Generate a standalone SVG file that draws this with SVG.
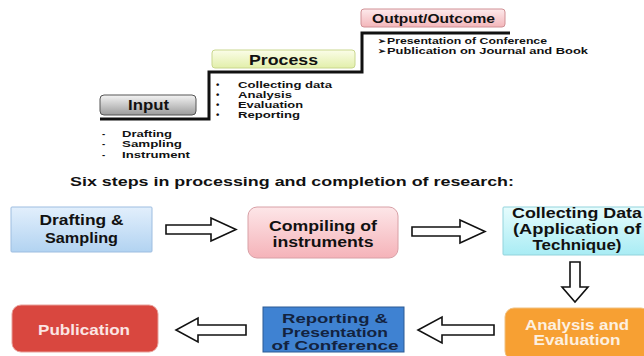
<svg xmlns="http://www.w3.org/2000/svg" width="644" height="356" viewBox="0 0 644 356">
<style>
text{font-family:"Liberation Sans",Arial,sans-serif;font-weight:bold;fill:#111}
.lbl{font-size:14px;text-anchor:middle}
.lst{font-size:9.6px}
.arr{fill:#fff;stroke:#111;stroke-width:1.6;stroke-linejoin:miter}
.step{fill:none;stroke:#111;stroke-width:3}
</style>
<defs>
<linearGradient id="gGray" x1="0" y1="0" x2="0" y2="1"><stop offset="0" stop-color="#f4f4f4"/><stop offset="1" stop-color="#9c9c9c"/></linearGradient>
<linearGradient id="gYel" x1="0" y1="0" x2="0" y2="1"><stop offset="0" stop-color="#fbfde8"/><stop offset="1" stop-color="#e2efaa"/></linearGradient>
<linearGradient id="gPinkS" x1="0" y1="0" x2="0" y2="1"><stop offset="0" stop-color="#fdeaec"/><stop offset="1" stop-color="#f3b6ba"/></linearGradient>
<linearGradient id="gBlue" x1="0" y1="0" x2="0" y2="1"><stop offset="0" stop-color="#e2effc"/><stop offset="1" stop-color="#b2d3f1"/></linearGradient>
<linearGradient id="gPink" x1="0" y1="0" x2="0" y2="1"><stop offset="0" stop-color="#fde6e8"/><stop offset="1" stop-color="#f5b3b9"/></linearGradient>
<linearGradient id="gCyan" x1="0" y1="0" x2="0" y2="1"><stop offset="0" stop-color="#e6fcfd"/><stop offset="1" stop-color="#a9ecf4"/></linearGradient>
</defs>

<g id="connectors">
<path class="step" d="M100,119 H209 V72 H362 V33 H510"/>
<path id="arrow-1" class="arr" d="M166,225 H211 V218 L236,229.5 L211,241 V234 H166 Z"/>
<path id="arrow-2" class="arr" d="M412,227 H460 V220 L485,231.5 L460,243 V236 H412 Z"/>
<path id="arrow-3" class="arr" d="M570,262 H580 V287 H588 L575,302 L562,287 H570 Z"/>
<path id="arrow-4" class="arr" d="M494,325 H442 V317 L418,330 L442,343 V335 H494 Z"/>
<path id="arrow-5" class="arr" d="M246,325 H198 V318 L176,330 L198,342 V335 H246 Z"/>
</g>

<g id="input">
<rect x="100" y="95" width="96" height="20" rx="4" fill="url(#gGray)" stroke="#555" stroke-width="1"/>
<text x="128" y="110" style="font-size:14px" textLength="41" lengthAdjust="spacingAndGlyphs">Input</text>
<text class="lst" x="102" y="136.5">-</text><text class="lst" x="122" y="136.5" textLength="50" lengthAdjust="spacingAndGlyphs">Drafting</text>
<text class="lst" x="102" y="147">-</text><text class="lst" x="122" y="147" textLength="60" lengthAdjust="spacingAndGlyphs">Sampling</text>
<text class="lst" x="102" y="157.5">-</text><text class="lst" x="122" y="157.5" textLength="68" lengthAdjust="spacingAndGlyphs">Instrument</text>
</g>

<g id="process">
<rect x="212" y="50" width="143" height="18" rx="3" fill="url(#gYel)" stroke="#c9d78e" stroke-width="1"/>
<text x="249" y="64.5" style="font-size:15px" textLength="69" lengthAdjust="spacingAndGlyphs">Process</text>
<text class="lst" x="216" y="87.5">•</text><text class="lst" x="238" y="87.5" textLength="94" lengthAdjust="spacingAndGlyphs">Collecting data</text>
<text class="lst" x="216" y="97.8">•</text><text class="lst" x="238" y="97.8" textLength="54" lengthAdjust="spacingAndGlyphs">Analysis</text>
<text class="lst" x="216" y="108.1">•</text><text class="lst" x="238" y="108.1" textLength="65" lengthAdjust="spacingAndGlyphs">Evaluation</text>
<text class="lst" x="216" y="118.4">•</text><text class="lst" x="238" y="118.4" textLength="62" lengthAdjust="spacingAndGlyphs">Reporting</text>
</g>

<g id="output">
<rect x="361" y="9" width="144" height="18" rx="3" fill="url(#gPinkS)" stroke="#d09095" stroke-width="1"/>
<text x="372" y="22.5" style="font-size:13px" textLength="123" lengthAdjust="spacingAndGlyphs">Output/Outcome</text>
<text x="378" y="44" style="font-size:8.5px">➢</text><text x="387" y="44" style="font-size:9.3px" textLength="160" lengthAdjust="spacingAndGlyphs">Presentation of Conference</text>
<text x="378" y="54" style="font-size:8.5px">➢</text><text x="387" y="54" style="font-size:9.3px" textLength="201" lengthAdjust="spacingAndGlyphs">Publication on Journal and Book</text>
</g>

<g id="title">
<text x="70" y="186" style="font-size:13.5px" textLength="444" lengthAdjust="spacingAndGlyphs">Six steps in processing and completion of research:</text>
</g>

<g id="drafting">
<rect x="11" y="207" width="141" height="45" rx="1" fill="url(#gBlue)" stroke="#9dbde0" stroke-width="1"/>
<text class="lbl" x="81.5" y="225" textLength="84" lengthAdjust="spacingAndGlyphs">Drafting &amp;</text>
<text class="lbl" x="81.5" y="242.5" textLength="73" lengthAdjust="spacingAndGlyphs">Sampling</text>
</g>

<g id="compiling">
<rect x="248" y="207" width="150" height="51" rx="9" fill="url(#gPink)" stroke="#d8a0a6" stroke-width="1"/>
<text class="lbl" x="323" y="230.5" textLength="108" lengthAdjust="spacingAndGlyphs">Compiling of</text>
<text class="lbl" x="323" y="246.5" textLength="101" lengthAdjust="spacingAndGlyphs">instruments</text>
</g>

<g id="collecting">
<rect x="503" y="207" width="145" height="48" rx="1" fill="url(#gCyan)" stroke="#93d3dc" stroke-width="1"/>
<text class="lbl" x="577" y="218" textLength="130" lengthAdjust="spacingAndGlyphs">Collecting Data</text>
<text class="lbl" x="577" y="234" textLength="128" lengthAdjust="spacingAndGlyphs">(Application of</text>
<text class="lbl" x="577" y="250" textLength="89" lengthAdjust="spacingAndGlyphs">Technique)</text>
</g>

<g id="analysis">
<rect x="505" y="308" width="145" height="52" rx="9" fill="#f7a033" stroke="#f0c080" stroke-width="1"/>
<text class="lbl" x="577" y="330" style="fill:#fdf0e0" textLength="104" lengthAdjust="spacingAndGlyphs">Analysis and</text>
<text class="lbl" x="577" y="345" style="fill:#fdf0e0" textLength="87" lengthAdjust="spacingAndGlyphs">Evaluation</text>
</g>

<g id="reporting">
<rect x="263" y="307" width="141" height="45" fill="#3f82d2" stroke="#2c5a94" stroke-width="1"/>
<text class="lbl" x="335" y="323" style="font-size:13px;fill:#13233f" textLength="106" lengthAdjust="spacingAndGlyphs">Reporting &amp;</text>
<text class="lbl" x="335" y="336.5" style="font-size:13px;fill:#13233f" textLength="106" lengthAdjust="spacingAndGlyphs">Presentation</text>
<text class="lbl" x="335" y="350" style="font-size:13px;fill:#13233f" textLength="127" lengthAdjust="spacingAndGlyphs">of Conference</text>
</g>

<g id="publication">
<rect x="12" y="305" width="146" height="47" rx="9" fill="#d9473f" stroke="#e8a09a" stroke-width="1"/>
<text class="lbl" x="84" y="334.5" style="fill:#fbe5e3" textLength="92" lengthAdjust="spacingAndGlyphs">Publication</text>
</g>
</svg>
